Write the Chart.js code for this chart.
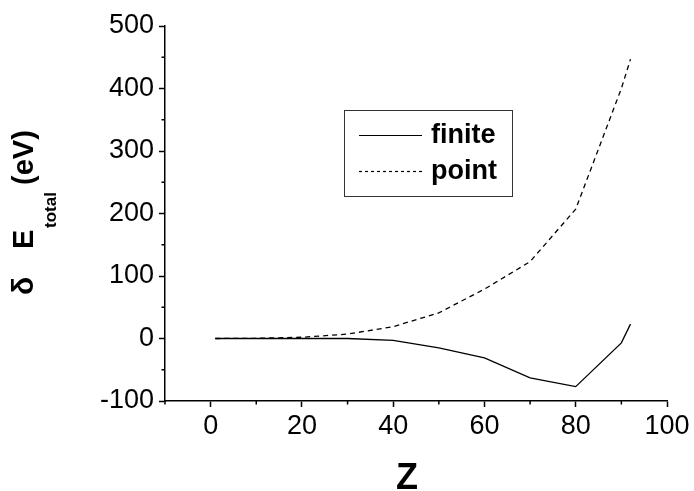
<!DOCTYPE html>
<html>
<head>
<meta charset="utf-8">
<script src="https://cdn.jsdelivr.net/npm/chart.js@4/dist/chart.umd.min.js"></script>
<style>
  html, body { margin:0; padding:0; background:#fff; }
  #wrap { width:694px; height:491px; }
</style>
</head>
<body>
<div id="wrap"><canvas id="c"></canvas></div>
<script>
// --- data ---
const zValues      = [1, 10, 20, 30, 40, 50, 60, 70, 80, 90, 92];
const finiteValues = [0, 0, 0, 0, -3, -15, -31, -63, -77, -7, 23];
const pointValues  = [0, 0.3, 2, 7, 19, 41, 79, 123, 207, 400, 447];
const seriesLabels = ['finite', 'point'];

const xTicks = [0, 20, 40, 60, 80, 100];
const xMinor = [-10, 10, 30, 50, 70, 90];
const yTicks = [-100, 0, 100, 200, 300, 400, 500];
const yMinor = [-50, 50, 150, 250, 350, 450];

const FONT = '"Liberation Sans", Arial, sans-serif';

const toPts = vals => zValues.map((z, i) => ({ x: z, y: vals[i] }));

// minor ticks, axis titles and inset legend
const decor = {
  id: 'decor',
  afterDraw(chart) {
    const ctx = chart.ctx, xs = chart.scales.x, ys = chart.scales.y;
    const area = chart.chartArea;
    ctx.save();
    ctx.strokeStyle = '#000';
    ctx.lineWidth = 1.5;
    ctx.beginPath();
    xMinor.forEach(v => { const p = xs.getPixelForValue(v); ctx.moveTo(p, area.bottom); ctx.lineTo(p, area.bottom + 3.5); });
    yMinor.forEach(v => { const p = ys.getPixelForValue(v); ctx.moveTo(area.left, p); ctx.lineTo(area.left - 3.5, p); });
    ctx.stroke();

    // x title
    ctx.fillStyle = '#000';
    ctx.font = 'bold 36px ' + FONT;
    ctx.textAlign = 'center';
    ctx.textBaseline = 'alphabetic';
    ctx.fillText('Z', 407, 489);

    // y title: δ E_total(eV)
    ctx.save();
    ctx.translate(33, 295);
    ctx.rotate(-Math.PI / 2);
    ctx.textAlign = 'left';
    ctx.font = 'bold 30px ' + FONT;
    ctx.fillText('δ', 0, 0);
    ctx.font = 'bold 29px ' + FONT;
    ctx.fillText('E', 46, 0);
    ctx.font = 'bold 17px ' + FONT;
    ctx.fillText('total', 67, 23);
    ctx.font = 'bold 29px ' + FONT;
    ctx.fillText('(eV)', 110, 0);
    ctx.restore();

    // legend
    ctx.lineWidth = 1;
    ctx.strokeStyle = '#333';
    ctx.strokeRect(344.5, 110.5, 168, 86);
    const rows = [135, 171];
    chart.data.datasets.forEach((ds, i) => {
      ctx.beginPath();
      ctx.strokeStyle = '#000';
      ctx.lineWidth = 1.2;
      ctx.setLineDash(i === 1 ? [3, 3] : []);
      ctx.moveTo(359, rows[i] + 0.5);
      ctx.lineTo(422, rows[i] + 0.5);
      ctx.stroke();
      ctx.setLineDash([]);
      ctx.font = 'bold 27px ' + FONT;
      ctx.textAlign = 'left';
      ctx.textBaseline = 'middle';
      ctx.fillText(ds.label, 431, rows[i] + 1);
    });
    ctx.restore();
  }
};

new Chart(document.getElementById('c'), {
  type: 'line',
  data: {
    datasets: [
      { label: seriesLabels[0], data: toPts(finiteValues), borderColor:'#000', borderWidth:1.3, pointRadius:0, tension:0, fill:false },
      { label: seriesLabels[1], data: toPts(pointValues), borderColor:'#000', borderWidth:1.3, borderDash:[5,4], pointRadius:0, tension:0, fill:false }
    ]
  },
  options: {
    responsive: true,
    maintainAspectRatio: false,
    animation: false,
    layout: { padding: { top: 26, right: 27, left: 0, bottom: 0 } },
    plugins: { legend: { display:false }, tooltip: { enabled:false } },
    scales: {
      x: {
        type: 'linear', min: -10, max: 100,
        afterBuildTicks: s => { s.ticks = xTicks.map(v => ({ value: v })); },
        afterFit: s => { s.height = 90; },
        border: { color:'#000', width:1.5 },
        grid: { drawOnChartArea:false, drawTicks:true, tickLength:6, tickColor:'#000', tickWidth:1.5 },
        ticks: { color:'#000', font:{ family:FONT, size:27 }, padding:3, maxRotation:0 }
      },
      y: {
        type: 'linear', min: -100, max: 500,
        afterBuildTicks: s => { s.ticks = yTicks.map(v => ({ value: v })); },
        afterFit: s => { s.width = 165; },
        border: { color:'#000', width:1.5 },
        grid: { drawOnChartArea:false, drawTicks:true, tickLength:6, tickColor:'#000', tickWidth:1.5 },
        ticks: { color:'#000', font:{ family:FONT, size:27 }, padding:5 }
      }
    }
  },
  plugins: [decor]
});
</script>
</body>
</html>
